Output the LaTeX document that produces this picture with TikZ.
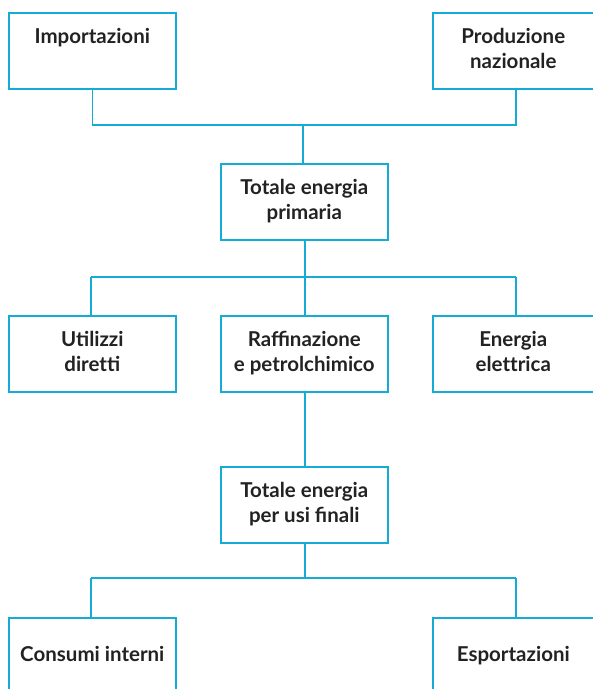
\documentclass[tikz,border=0pt]{standalone}
\usepackage{fontspec}
\setmainfont{Lato}
\begin{document}
\begin{tikzpicture}[x=1pt,y=-1pt,
  box/.style={draw=lineblue, line width=1.6pt, rectangle, minimum width=167pt, minimum height=76pt, inner sep=0pt, anchor=north west},
  lbl/.style={anchor=north, align=center, font=\fontsize{20.5}{25.5}\selectfont\bfseries, text=textgray, inner sep=0pt},
  conn/.style={draw=lineblue, line width=1.6pt}]
\definecolor{lineblue}{RGB}{20,172,212}
\definecolor{textgray}{RGB}{34,34,34}
\useasboundingbox (0,0) rectangle (593,689);
\clip (0,0) rectangle (593,689);
% boxes
\node[box] (imp) at (8,12) {};
\node[box] (prod) at (432,12) {};
\node[box] (tep) at (220,163) {};
\node[box] (util) at (8,315) {};
\node[box] (raff) at (220,315) {};
\node[box] (elet) at (432,315) {};
\node[box] (tuf) at (220,466) {};
\node[box] (cons) at (8,617) {};
\node[box] (esp) at (432,617) {};
% labels
\node[lbl] at ([yshift=-16pt]imp.north) {Importazioni};
\node[lbl] at ([xshift=-3pt,yshift=-16pt]prod.north) {Produzione\\nazionale};
\node[lbl] at ([yshift=-16pt]tep.north) {Totale energia\\primaria};
\node[lbl] at ([yshift=-16pt]util.north) {Utilizzi\\diret\kern0pt ti};
\node[lbl] at ([yshift=-16pt]raff.north) {Raffinazione\\e petrolchimico};
\node[lbl] at ([xshift=-3pt,yshift=-16pt]elet.north) {Energia\\elet\kern0pt trica};
\node[lbl] at ([yshift=-16pt]tuf.north) {Totale energia\\per usi finali};
\node[lbl] at ([yshift=-29pt]cons.north) {Consumi interni};
\node[lbl] at ([xshift=-3pt,yshift=-29pt]esp.north) {Esportazioni};
% junctions
\coordinate (j1) at (303,125);
\coordinate (j2) at (305,277);
\coordinate (j3) at (305,578);
% connectors
\draw[conn] (imp.south) |- (j1);
\draw[conn] (516,88) |- (j1);
\draw[conn] (j1) -- (j1 |- tep.north);
\draw[conn] (j2 |- tep.south) -- (j2);
\draw[conn] (91,277) -- (516,277);
\draw[conn] (91,277) -- (91,315);
\draw[conn] (516,277) -- (516,315);
\draw[conn] (j2) -- (j2 |- raff.north);
\draw[conn] (raff.south -| j2) -- (j2 |- tuf.north);
\draw[conn] (tuf.south -| j3) -- (j3);
\draw[conn] (91,578) -- (516,578);
\draw[conn] (91,578) -- (91,617);
\draw[conn] (516,578) -- (516,617);
\end{tikzpicture}
\end{document}
